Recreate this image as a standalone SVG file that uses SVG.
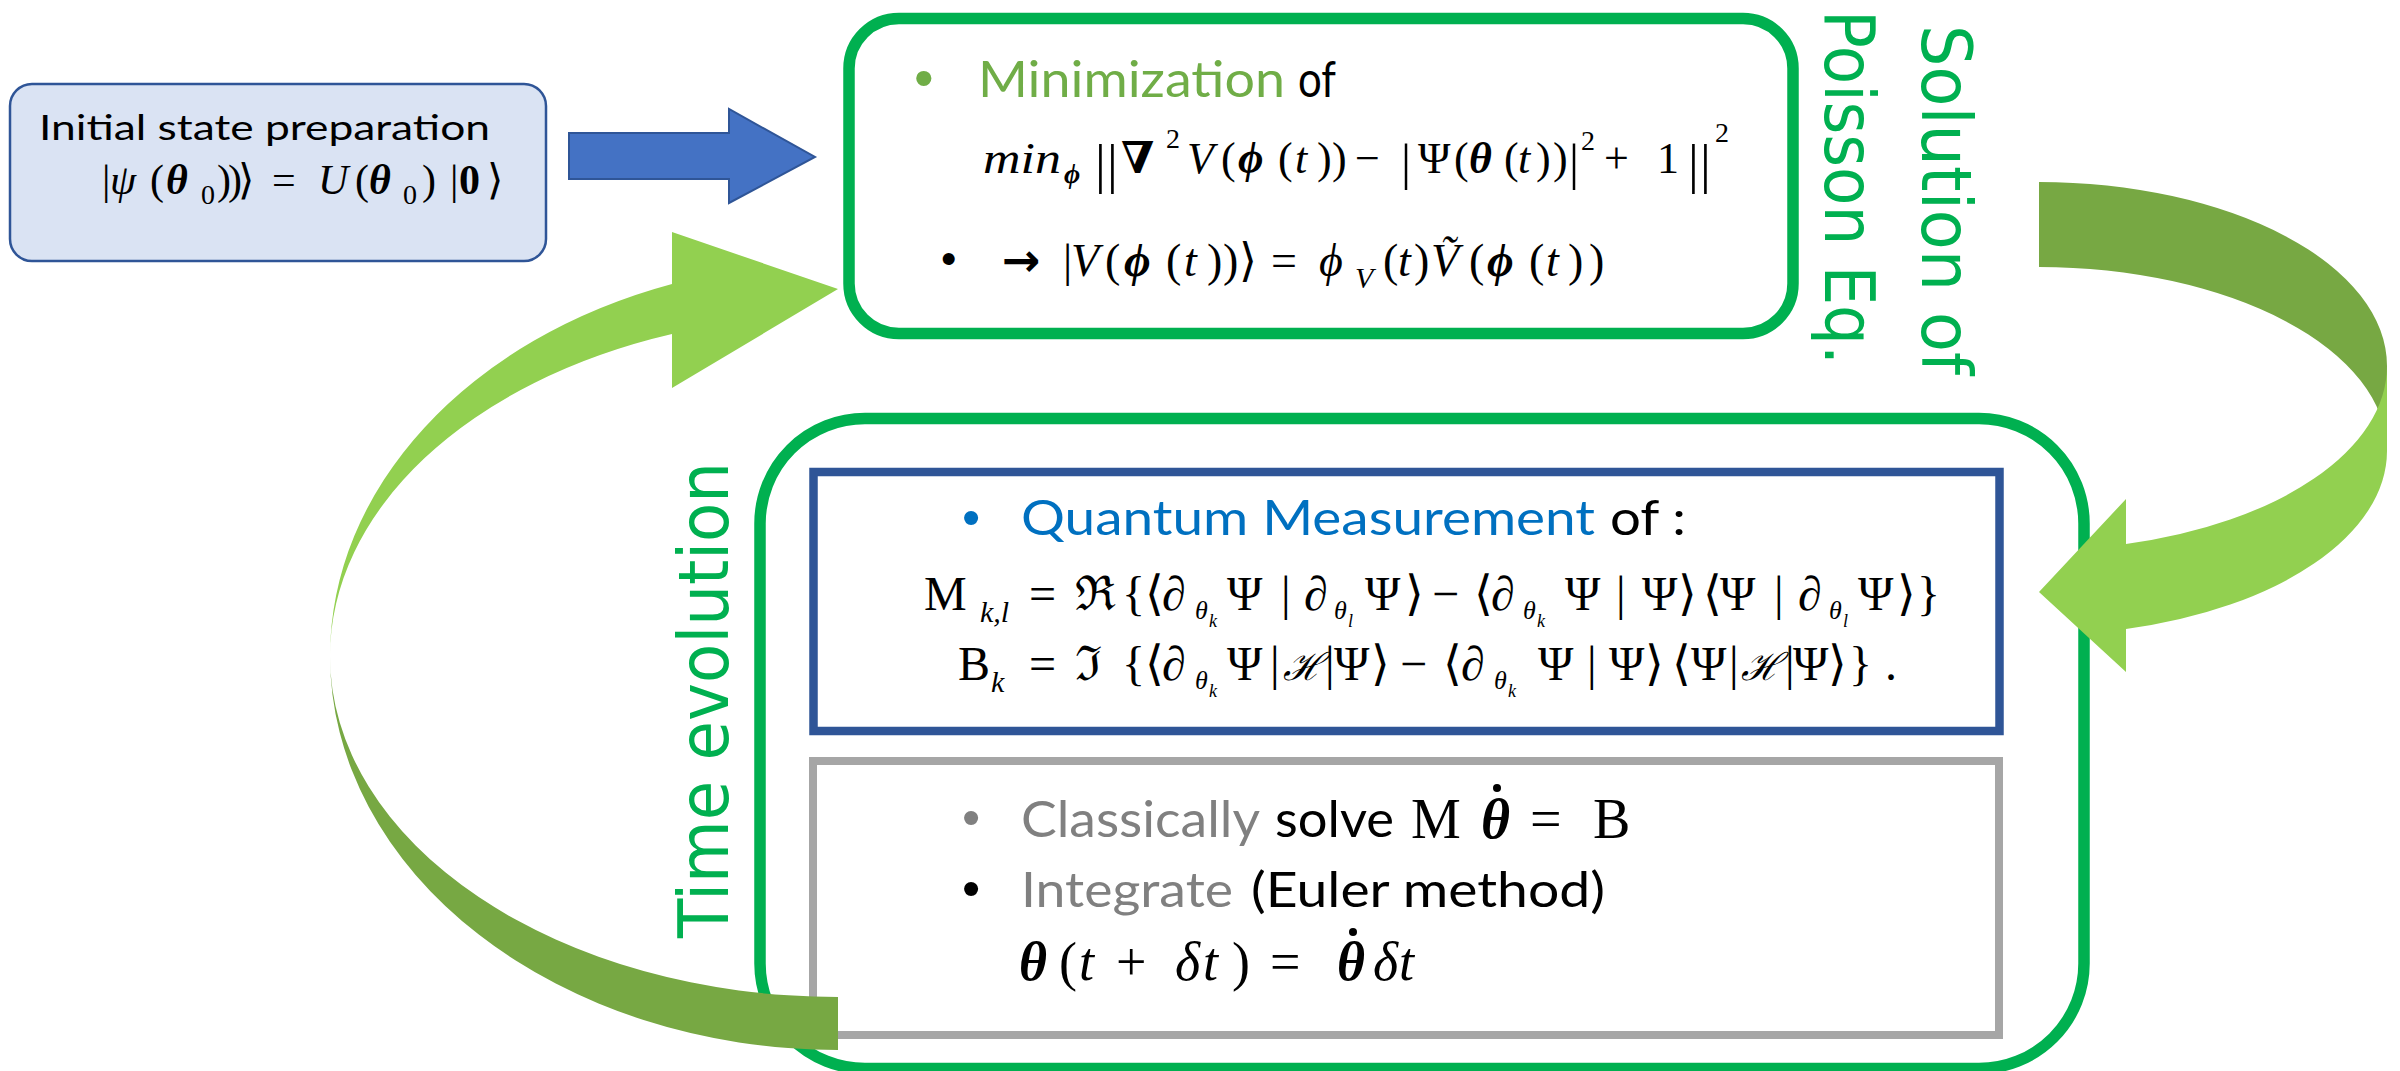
<svg xmlns="http://www.w3.org/2000/svg" width="2400" height="1071" viewBox="0 0 2400 1071">
<style>
.cal{font-family:Lato,"Liberation Sans",sans-serif}
.bul{font-family:"Liberation Sans",Arial,sans-serif}
.m{font-family:"Liberation Serif","DejaVu Serif",serif}
.i{font-style:italic}
.b{font-weight:bold}
.bi{font-weight:bold;font-style:italic}
.vt{font-family:"DejaVu Sans",sans-serif;font-size:70px;fill:#00b050}
.gbox{fill:#fff;stroke:#00b050;stroke-width:11.5}
</style>
<rect width="2400" height="1071" fill="#fff"/>

<g id="node-initial">
  <rect x="10" y="84" width="536" height="177" rx="22" fill="#dae3f3" stroke="#2f5597" stroke-width="2.5"/>
  <text class="cal" x="39" y="140" font-size="35" textLength="451" lengthAdjust="spacingAndGlyphs">Initial state preparation</text>
  <text class="m" font-size="42">
    <tspan x="102" y="194">|</tspan><tspan x="110" y="194" class="i">ψ</tspan><tspan x="150" y="194">(</tspan><tspan x="166" y="194" class="bi">θ</tspan><tspan x="201" y="204" font-size="28">0</tspan><tspan x="217" y="194">)</tspan><tspan x="228" y="194">)</tspan><tspan x="238" y="194">⟩</tspan><tspan x="272" y="194">=</tspan><tspan x="318" y="194" class="i">U</tspan><tspan x="355" y="194">(</tspan><tspan x="369" y="194" class="bi">θ</tspan><tspan x="403" y="204" font-size="28">0</tspan><tspan x="422" y="194">)</tspan><tspan x="450" y="194">|</tspan><tspan x="459" y="194" class="b">0</tspan><tspan x="487" y="194">⟩</tspan>
  </text>
</g>

<g id="node-poisson">
  <rect class="gbox" x="849" y="18.5" width="944" height="315" rx="50"/>
  <text class="bul" x="914" y="97" font-size="56" fill="#70ad47">•</text>
  <text class="cal" y="97" font-size="50"><tspan x="978" fill="#70ad47" textLength="307" lengthAdjust="spacingAndGlyphs">Minimization</tspan><tspan x="1298" textLength="38" lengthAdjust="spacingAndGlyphs">of</tspan></text>
  <text class="m" font-size="44">
    <tspan x="983" y="173" class="i" textLength="78" lengthAdjust="spacingAndGlyphs">min</tspan><tspan x="1064" y="183" font-size="28" class="bi">ϕ</tspan><tspan x="1095" y="182" font-size="54">|</tspan><tspan x="1107" y="182" font-size="54">|</tspan><tspan x="1121" y="173" class="b">∇</tspan><tspan x="1166" y="148" font-size="28">2</tspan><tspan x="1187" y="173" class="i">V</tspan><tspan x="1221" y="173">(</tspan><tspan x="1238" y="173" class="bi">ϕ</tspan><tspan x="1278" y="173">(</tspan><tspan x="1295" y="173" class="i">t</tspan><tspan x="1317" y="173">)</tspan><tspan x="1332" y="173">)</tspan><tspan x="1355" y="173">−</tspan><tspan x="1401" y="179" font-size="50">|</tspan><tspan x="1418" y="173">Ψ</tspan><tspan x="1454" y="173">(</tspan><tspan x="1469" y="173" class="bi">θ</tspan><tspan x="1504" y="173">(</tspan><tspan x="1518" y="173" class="i">t</tspan><tspan x="1536" y="173">)</tspan><tspan x="1553" y="173">)</tspan><tspan x="1569" y="179" font-size="50">|</tspan><tspan x="1581" y="150" font-size="28">2</tspan><tspan x="1604" y="173">+</tspan><tspan x="1657" y="173">1</tspan><tspan x="1688" y="182" font-size="54">|</tspan><tspan x="1700" y="182" font-size="54">|</tspan><tspan x="1715" y="142" font-size="28">2</tspan>
  </text>
  <text class="bul" x="941" y="274" font-size="44">•</text>
  <text x="1002" y="276" font-family="DejaVu Sans,sans-serif" font-weight="bold" font-size="46">→</text>
  <text class="m" font-size="46">
    <tspan x="1063" y="276">|</tspan><tspan x="1071" y="276" class="i">V</tspan><tspan x="1105" y="276">(</tspan><tspan x="1124" y="276" class="bi">ϕ</tspan><tspan x="1166" y="276">(</tspan><tspan x="1184" y="276" class="i">t</tspan><tspan x="1207" y="276">)</tspan><tspan x="1223" y="276">)</tspan><tspan x="1239" y="276">⟩</tspan><tspan x="1271" y="276">=</tspan><tspan x="1319" y="276" class="i">ϕ</tspan><tspan x="1355" y="288" font-size="30" class="i">V</tspan><tspan x="1383" y="276">(</tspan><tspan x="1398" y="276" class="i">t</tspan><tspan x="1414" y="276">)</tspan><tspan x="1431" y="276" class="i">Ṽ</tspan><tspan x="1469" y="276">(</tspan><tspan x="1487" y="276" class="bi">ϕ</tspan><tspan x="1529" y="276">(</tspan><tspan x="1546" y="276" class="i">t</tspan><tspan x="1568" y="276">)</tspan><tspan x="1589" y="276">)</tspan>
  </text>
</g>

<g id="node-time-evolution">
  <rect class="gbox" x="760" y="418.5" width="1324" height="650" rx="105"/>
  <g id="node-measurement">
    <rect x="813.5" y="472" width="1186" height="259" fill="#fff" stroke="#2f5597" stroke-width="8.5"/>
    <text class="bul" x="962" y="535" font-size="52" fill="#0070c0">•</text>
    <text class="cal" y="535" font-size="49"><tspan x="1021" fill="#0070c0" textLength="574" lengthAdjust="spacingAndGlyphs">Quantum Measurement</tspan><tspan x="1610" textLength="76" lengthAdjust="spacingAndGlyphs">of :</tspan></text>
    <text class="m" font-size="48">
      <tspan x="924" y="610">M</tspan><tspan x="980" y="622" font-size="30" class="i">k,l</tspan><tspan x="1029" y="610">=</tspan><tspan x="1075" y="610">ℜ</tspan><tspan x="1122" y="610">{</tspan><tspan x="1145" y="610">⟨</tspan><tspan x="1162" y="610" class="i">∂</tspan><tspan x="1195" y="619" font-size="26" class="i">θ</tspan><tspan x="1209" y="627" font-size="18" class="i">k</tspan><tspan x="1227" y="610">Ψ</tspan><tspan x="1281" y="610">|</tspan><tspan x="1304" y="610" class="i">∂</tspan><tspan x="1334" y="619" font-size="26" class="i">θ</tspan><tspan x="1348" y="627" font-size="18" class="i">l</tspan><tspan x="1365" y="610">Ψ</tspan><tspan x="1405" y="610">⟩</tspan><tspan x="1432" y="610">−</tspan><tspan x="1474" y="610">⟨</tspan><tspan x="1491" y="610" class="i">∂</tspan><tspan x="1523" y="619" font-size="26" class="i">θ</tspan><tspan x="1537" y="627" font-size="18" class="i">k</tspan><tspan x="1565" y="610">Ψ</tspan><tspan x="1616" y="610">|</tspan><tspan x="1642" y="610">Ψ</tspan><tspan x="1678" y="610">⟩</tspan><tspan x="1703" y="610">⟨</tspan><tspan x="1720" y="610">Ψ</tspan><tspan x="1774" y="610">|</tspan><tspan x="1798" y="610" class="i">∂</tspan><tspan x="1829" y="619" font-size="26" class="i">θ</tspan><tspan x="1843" y="627" font-size="18" class="i">l</tspan><tspan x="1858" y="610">Ψ</tspan><tspan x="1897" y="610">⟩</tspan><tspan x="1917" y="610">}</tspan>
    </text>
    <text class="m" font-size="48">
      <tspan x="958" y="680">B</tspan><tspan x="991" y="692" font-size="30" class="i">k</tspan><tspan x="1029" y="680">=</tspan><tspan x="1075" y="680">ℑ</tspan><tspan x="1122" y="680">{</tspan><tspan x="1145" y="680">⟨</tspan><tspan x="1162" y="680" class="i">∂</tspan><tspan x="1195" y="689" font-size="26" class="i">θ</tspan><tspan x="1209" y="697" font-size="18" class="i">k</tspan><tspan x="1227" y="680">Ψ</tspan><tspan x="1270" y="680">|</tspan><tspan x="1283" y="680" font-size="38" class="i">ℋ</tspan><tspan x="1325" y="680">|</tspan><tspan x="1334" y="680">Ψ</tspan><tspan x="1371" y="680">⟩</tspan><tspan x="1400" y="680">−</tspan><tspan x="1443" y="680">⟨</tspan><tspan x="1461" y="680" class="i">∂</tspan><tspan x="1494" y="689" font-size="26" class="i">θ</tspan><tspan x="1508" y="697" font-size="18" class="i">k</tspan><tspan x="1538" y="680">Ψ</tspan><tspan x="1587" y="680">|</tspan><tspan x="1609" y="680">Ψ</tspan><tspan x="1645" y="680">⟩</tspan><tspan x="1672" y="680">⟨</tspan><tspan x="1691" y="680">Ψ</tspan><tspan x="1729" y="680">|</tspan><tspan x="1741" y="680" font-size="38" class="i">ℋ</tspan><tspan x="1785" y="680">|</tspan><tspan x="1793" y="680">Ψ</tspan><tspan x="1828" y="680">⟩</tspan><tspan x="1849" y="680">}</tspan><tspan x="1885" y="680">.</tspan>
    </text>
  </g>
  <g id="node-classical">
    <rect x="813" y="761" width="1186" height="274" fill="#fff" stroke="#a6a6a6" stroke-width="8"/>
    <text class="bul" x="962" y="835" font-size="52" fill="#808080">•</text>
    <text class="cal" y="837" font-size="51"><tspan x="1021" fill="#808080" textLength="239" lengthAdjust="spacingAndGlyphs">Classically</tspan><tspan x="1275" textLength="119" lengthAdjust="spacingAndGlyphs">solve</tspan></text>
    <text class="m" font-size="56"><tspan x="1411" y="838">M</tspan><tspan x="1481" y="838" class="bi">θ</tspan><tspan x="1530" y="838">=</tspan><tspan x="1593" y="838">B</tspan></text>
    <circle cx="1497" cy="788" r="4" fill="#000"/>
    <text class="bul" x="962" y="906" font-size="52">•</text>
    <text class="cal" y="907" font-size="49"><tspan x="1021" fill="#808080" textLength="212" lengthAdjust="spacingAndGlyphs">Integrate</tspan><tspan x="1251" textLength="354" lengthAdjust="spacingAndGlyphs">(Euler method)</tspan></text>
    <text class="m" font-size="54"><tspan x="1019" y="980" class="bi">θ</tspan><tspan x="1059" y="980">(</tspan><tspan x="1079" y="980" class="i">t</tspan><tspan x="1116" y="980">+</tspan><tspan x="1175" y="980" class="i">δ</tspan><tspan x="1203" y="980" class="i">t</tspan><tspan x="1232" y="980">)</tspan><tspan x="1270" y="980">=</tspan><tspan x="1337" y="980" class="bi">θ</tspan><tspan x="1373" y="980" class="i">δ</tspan><tspan x="1399" y="980" class="i">t</tspan></text>
    <circle cx="1353" cy="932" r="4" fill="#000"/>
  </g>
</g>

<g id="connectors">
  <path id="edge-initial-poisson" d="M569,133 L729,133 L729,109 L815,157 L729,203 L729,179 L569,179 Z" fill="#4472c4" stroke="#2f5597" stroke-width="2"/>
  <g id="edge-poisson-time">
    <path d="M2039,182 A348,184 0 0 1 2387,366 L2387,451 A348,184 0 0 0 2039,267 Z" fill="#77a843"/>
    <path d="M2387,366 L2387,451 A348,184 0 0 1 2126,629 L2126,672 L2039,592 L2126,499 L2126,544 A348,184 0 0 0 2387,366 Z" fill="#92d050"/>
    <text class="vt" transform="translate(1922,25) rotate(90)" textLength="350" lengthAdjust="spacingAndGlyphs">Solution of</text>
    <text class="vt" transform="translate(1825,10) rotate(90)" textLength="355" lengthAdjust="spacingAndGlyphs">Poisson Eq.</text>
  </g>
  <g id="edge-time-poisson">
    <path d="M330,656 A508,394 0 0 0 838,1050 L838,997 A508,341 0 0 1 330,656 Z" fill="#77a843"/>
    <path d="M672,284 A508,394 0 0 0 330,656 A508,341 0 0 1 672,334 L672,388 L838,289 L672,232 Z" fill="#92d050"/>
    <text class="vt" transform="translate(728,938) rotate(-90)" textLength="476" lengthAdjust="spacingAndGlyphs">Time evolution</text>
  </g>
</g>
</svg>
